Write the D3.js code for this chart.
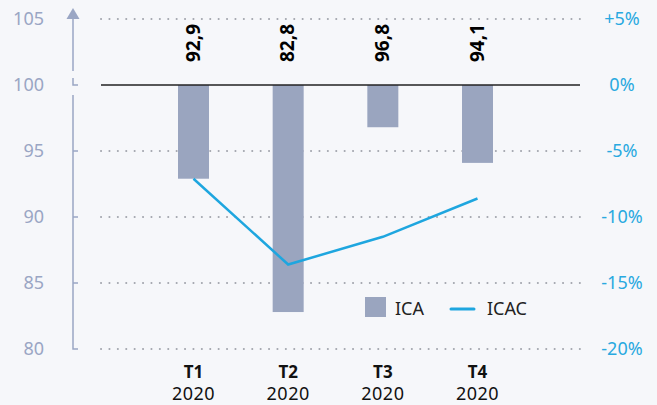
<!DOCTYPE html>
<html>
<head>
<meta charset="utf-8">
<script src="https://cdn.jsdelivr.net/npm/d3@7"></script>
<style>
  body { margin: 0; background: #f6f7fa; }
  svg { display: block; font-family: "Noto Sans", sans-serif; }
</style>
</head>
<body>
<svg id="chart" width="657" height="405"></svg>
<script>
// data
var quarters = ['T1', 'T2', 'T3', 'T4'];
var years = ['2020', '2020', '2020', '2020'];
var icaValues = [92.9, 82.8, 96.8, 94.1];
var icaLabels = ['92,9', '82,8', '96,8', '94,1'];
var icacValues = [-7.1, -13.6, -11.5, -8.6];
var leftTicks = [80, 85, 90, 95, 100, 105];
var rightTicks = [-20, -15, -10, -5, 0, 5];
var rightLabels = ['-20%', '-15%', '-10%', '-5%', '0%', '+5%'];

var svg = d3.select('#chart');
var width = 657, height = 405;

var x = d3.scalePoint().domain(quarters).range([193.5, 477.5]);
var y = d3.scaleLinear().domain([80, 105]).range([349, 19]);
var y2 = d3.scaleLinear().domain([-20, 5]).range([349, 19]);
var barWidth = 31;

var gridLeft = 101, gridRight = 580;
var axisX = 73;

// dotted grid
svg.append('g').selectAll('line')
  .data(leftTicks.filter(function(d) { return d !== 100; }))
  .enter().append('line')
  .attr('x1', gridLeft).attr('x2', gridRight)
  .attr('y1', function(d) { return y(d); })
  .attr('y2', function(d) { return y(d); })
  .style('stroke', '#a3a6ae')
  .style('stroke-width', 2)
  .style('stroke-linecap', 'round')
  .style('stroke-dasharray', '0.1 8.3');

// bars (hang from 100)
svg.append('g').selectAll('rect')
  .data(icaValues)
  .enter().append('rect')
  .attr('x', function(d, i) { return x(quarters[i]) - barWidth / 2; })
  .attr('y', y(100))
  .attr('width', barWidth)
  .attr('height', function(d) { return y(d) - y(100); })
  .style('fill', '#9aa5bf');

// zero line
svg.append('line')
  .attr('x1', gridLeft).attr('x2', gridRight)
  .attr('y1', y(100)).attr('y2', y(100))
  .style('stroke', '#222')
  .style('stroke-width', 1.3);

// ICAC line
var line = d3.line()
  .x(function(d, i) { return x(quarters[i]); })
  .y(function(d) { return y2(d); });

svg.append('path')
  .datum(icacValues)
  .attr('d', line)
  .style('fill', 'none')
  .style('stroke', '#1ea6df')
  .style('stroke-width', 2.5);

// value labels, rotated
svg.append('g').selectAll('text')
  .data(icaLabels)
  .enter().append('text')
  .attr('transform', function(d, i) { return 'translate(' + (x(quarters[i]) + 6) + ',62) rotate(-90)'; })
  .attr('text-anchor', 'start')
  .style('font-size', '19px')
  .style('font-weight', 'bold')
  .style('fill', '#000')
  .text(function(d) { return d; });

// left axis with break and arrow
var axisColor = '#9aa6c4';
var leftAxis = svg.append('g');
leftAxis.append('line')
  .attr('x1', axisX).attr('x2', axisX)
  .attr('y1', 18).attr('y2', 71)
  .style('stroke', axisColor).style('stroke-width', 1.5);
leftAxis.append('path')
  .attr('d', 'M' + (axisX - 6.5) + ',19 L' + axisX + ',8 L' + (axisX + 6.5) + ',19 Z')
  .style('fill', axisColor);
leftAxis.append('path')
  .attr('d', 'M' + axisX + ',78 V' + y(100) + ' H' + (axisX + 5))
  .style('fill', 'none')
  .style('stroke', axisColor).style('stroke-width', 1.5);
leftAxis.append('path')
  .attr('d', 'M' + axisX + ',95 V' + y(80) + ' H' + (axisX + 5))
  .style('fill', 'none')
  .style('stroke', axisColor).style('stroke-width', 1.5);
leftAxis.selectAll('.tick')
  .data([85, 90, 95])
  .enter().append('line')
  .attr('x1', axisX).attr('x2', axisX + 5)
  .attr('y1', function(d) { return y(d); })
  .attr('y2', function(d) { return y(d); })
  .style('stroke', axisColor).style('stroke-width', 1.5);

svg.append('g').selectAll('text')
  .data(leftTicks)
  .enter().append('text')
  .attr('x', 44)
  .attr('y', function(d) { return y(d); })
  .attr('dy', '0.35em')
  .attr('text-anchor', 'end')
  .style('font-size', '18px')
  .style('fill', axisColor)
  .text(function(d) { return d; });

// right axis labels
svg.append('g').selectAll('text')
  .data(rightTicks)
  .enter().append('text')
  .attr('x', 622)
  .attr('y', function(d) { return y2(d); })
  .attr('dy', '0.35em')
  .attr('text-anchor', 'middle')
  .style('font-size', '18px')
  .style('fill', '#29a9e0')
  .text(function(d, i) { return rightLabels[i]; });

// category labels
var cats = svg.append('g').selectAll('g')
  .data(quarters)
  .enter().append('g')
  .attr('transform', function(d) { return 'translate(' + x(d) + ',0)'; });
cats.append('text')
  .attr('y', 378)
  .attr('text-anchor', 'middle')
  .style('font-size', '17px')
  .style('font-weight', 'bold')
  .style('fill', '#111')
  .text(function(d) { return d; });
cats.append('text')
  .attr('y', 400)
  .attr('text-anchor', 'middle')
  .style('font-size', '18px')
  .style('letter-spacing', '0.5px')
  .style('fill', '#111')
  .text(function(d, i) { return years[i]; });

// legend
var legend = svg.append('g');
legend.append('rect')
  .attr('x', 365).attr('y', 297)
  .attr('width', 21).attr('height', 20)
  .style('fill', '#9aa5bf');
legend.append('text')
  .attr('x', 395).attr('y', 315)
  .style('font-size', '18px')
  .style('fill', '#222')
  .text('ICA');
legend.append('line')
  .attr('x1', 451).attr('x2', 474)
  .attr('y1', 309).attr('y2', 309)
  .style('stroke', '#1ea6df')
  .style('stroke-width', 3)
  .style('stroke-linecap', 'round');
legend.append('text')
  .attr('x', 487).attr('y', 315)
  .style('font-size', '18px')
  .style('fill', '#222')
  .text('ICAC');
</script>
</body>
</html>
